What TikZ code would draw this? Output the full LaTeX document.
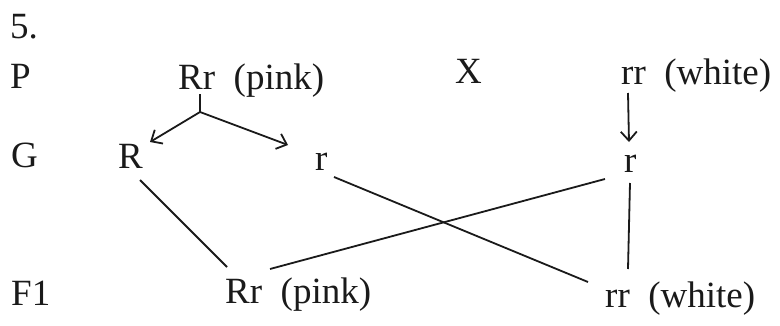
\documentclass[tikz,border=0pt]{standalone}
\usepackage{fontspec}
\setmainfont{Liberation Serif}
\usetikzlibrary{arrows.meta}
\definecolor{ink}{HTML}{1A1A1A}
\begin{document}
\begin{tikzpicture}[x=1pt,y=1pt,
  lbl/.style={anchor=base west,inner sep=0pt,text=ink,font=\fontsize{37}{44}\selectfont},
  link/.style={draw=ink,line width=1.8pt},
  arr/.style={link,-{Straight Barb[length=9pt,width=16pt,line width=1.8pt]}}]
\useasboundingbox[fill=white] (0,0) rectangle (780,325);
% row labels
\node[lbl] (num) at (10,287) {5.};
\node[lbl] (P)  at (10,237) {P};
\node[lbl] (G)  at (11,158) {G};
\node[lbl] (F1) at (11,20) {F1};
% parents
\node[lbl] (Rrp) at (178,236) {Rr\hspace{0.5em}(pink)};
\node[lbl] (X)   at (455,242) {X};
\node[lbl] (rrw) at (621,241) {rr\hspace{0.5em}(white)};
% gametes
\node[lbl] (gR)  at (118,157) {R};
\node[lbl] (gr1) at (315,155) {r};
\node[lbl] (gr2) at (624,153) {r};
% offspring
\node[lbl] (oRr) at (225,22) {Rr\hspace{0.5em}(pink)};
\node[lbl] (orr) at (605,18) {rr\hspace{0.5em}(white)};
% connector end points
\coordinate (stemTop) at (200,231);
\coordinate (fork) at (200,213);
\coordinate (tipR) at (150,183);
\coordinate (tipr) at (288,180);
\coordinate (aTop) at (628,232);
\coordinate (aTip) at (629,183);
\coordinate (Rbot) at (140,145);
\coordinate (RrTopL) at (227,58);
\coordinate (r1bot) at (334,148);
\coordinate (rrTopL) at (588,43);
\coordinate (r2botL) at (605,146);
\coordinate (RrTopR) at (270,56);
\coordinate (r2bot) at (630,142);
\coordinate (rrTop) at (628,56);
% connectors
\draw[link] (stemTop) -- (fork);
\draw[arr] (fork) -- (tipR);
\draw[arr] (fork) -- (tipr);
\draw[arr] (aTop) -- (aTip);
\draw[link] (Rbot) -- (RrTopL);
\draw[link] (r1bot) -- (rrTopL);
\draw[link] (r2botL) -- (RrTopR);
\draw[link] (r2bot) -- (rrTop);
\end{tikzpicture}
\end{document}
